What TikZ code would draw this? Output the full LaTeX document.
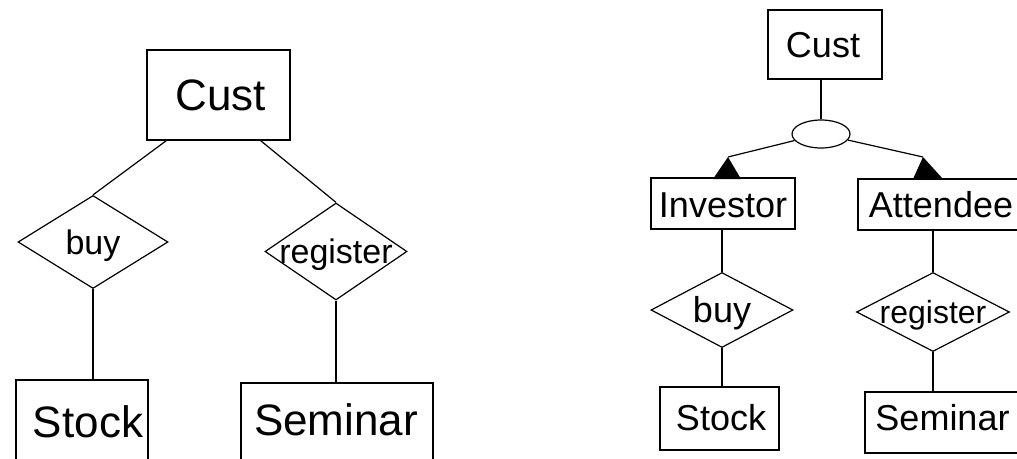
\documentclass[tikz,border=0pt]{standalone}
\usepackage{fontspec}
\setmainfont{Liberation Sans}
\usetikzlibrary{shapes.geometric}

\tikzset{
  lw/.style={line width=1.2pt},
  ent/.style={draw, lw, rectangle, inner sep=0pt},
  rel/.style={draw, lw, diamond, inner sep=0pt},
  isa/.style={draw, lw, ellipse, inner sep=0pt, minimum width=58pt, minimum height=28pt},
  link/.style={lw},
  tri/.style={fill=black},
  txL/.style={font=\fontsize{44}{48}\selectfont, text height=31.5pt, text depth=0pt, inner sep=0pt},
  txM/.style={font=\fontsize{34}{38}\selectfont, text height=24.3pt, text depth=0pt, inner sep=0pt},
  txS/.style={font=\fontsize{36}{40}\selectfont, text height=25.8pt, text depth=0pt, inner sep=0pt},
  txR/.style={font=\fontsize{32}{36}\selectfont, text height=22.9pt, text depth=0pt, inner sep=0pt},
}

\begin{document}
\begin{tikzpicture}[x=1pt, y=-1pt]
\useasboundingbox (0,0) rectangle (1017,458);
\clip (0,0) rectangle (1017,458);

% ---- left: customer with two relationships ----
\node[ent, minimum width=143pt, minimum height=90pt, label={[txL, xshift=2pt]center:Cust}] (cust) at (218.5,95) {};
\node[rel, minimum width=150pt, minimum height=93pt, label={[txM]center:buy}] (buy) at (93,242) {};
\node[rel, minimum width=142pt, minimum height=97pt, label={[txM]center:register}] (reg) at (336,251.5) {};
\node[ent, minimum width=132pt, minimum height=84pt, label={[txL, xshift=6pt]center:Stock}] (stock) at (82,422) {};
\node[ent, minimum width=192pt, minimum height=77pt, label={[txL, xshift=-1pt, yshift=2pt]center:Seminar}] (sem) at (337,421.5) {};

\draw[link] ([xshift=20pt]cust.south west) -- (buy.north);
\draw[link] ([xshift=-30pt]cust.south east) -- (reg.north);
\draw[link] (buy.south) -- (buy.south |- stock.north);
\draw[link] (reg.south) -- (reg.south |- sem.north);

% ---- right: customer specialised into investor and attendee ----
\node[ent, minimum width=114pt, minimum height=69pt, label={[txS, xshift=-2pt]center:Cust}] (rcust) at (825,44.5) {};
\node[isa] (ell) at (821,134) {};
\node[ent, minimum width=144pt, minimum height=51pt, label={[txS, yshift=-1pt]center:Investor}] (inv) at (723,203.5) {};
\node[ent, minimum width=166pt, minimum height=51pt, label={[txS]center:Attendee}] (att) at (941,204.5) {};
\node[rel, minimum width=142pt, minimum height=75pt, label={[txS]center:buy}] (rbuy) at (722,310) {};
\node[rel, minimum width=153pt, minimum height=79pt, label={[txR]center:register}] (rreg) at (933,312) {};
\node[ent, minimum width=119pt, minimum height=63pt, label={[txS, xshift=1.5pt, yshift=1pt]center:Stock}] (rstock) at (719.5,418.5) {};
\node[ent, minimum width=155pt, minimum height=61pt, label={[txS, yshift=5pt]center:Seminar}] (rsem) at (942.5,422.5) {};

\coordinate (tri1) at (728,157);
\coordinate (tri2) at (923,157);
\fill[tri] (713,179) -- (tri1) -- (741,179) -- cycle;
\fill[tri] (913,179) -- (tri2) -- (943,179) -- cycle;

\draw[link] (ell.north) -- (ell.north |- rcust.south);
\draw[link] (ell) -- (tri1);
\draw[link] (ell) -- (tri2);
\draw[link] (rbuy.north) -- (rbuy.north |- inv.south);
\draw[link] (rbuy.south) -- (rbuy.south |- rstock.north);
\draw[link] (rreg.north) -- (rreg.north |- att.south);
\draw[link] (rreg.south) -- (rreg.south |- rsem.north);
\end{tikzpicture}
\end{document}
